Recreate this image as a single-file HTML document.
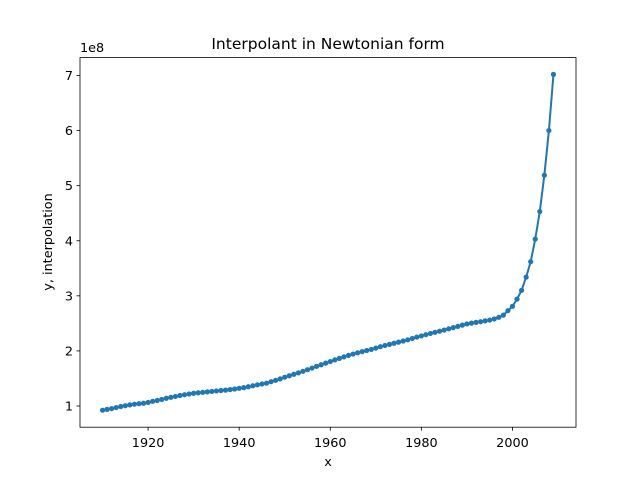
<!DOCTYPE html>
<html><head><meta charset="utf-8"><style>
body{margin:0;background:#fff}
svg text{font-family:"DejaVu Sans","Liberation Sans",sans-serif;fill:#000}
</style></head><body>
<svg id="chart" width="640" height="480" xmlns="http://www.w3.org/2000/svg">
<rect width="640" height="480" fill="#fff"/>
<text x="328" y="49" font-size="15.5" text-anchor="middle">Interpolant in Newtonian form</text>
<text x="328" y="466" font-size="12.8" text-anchor="middle">x</text>
<text transform="translate(52,242) rotate(-90)" font-size="12.8" text-anchor="middle">y, interpolation</text>
<text x="80" y="52" font-size="12.8">1e8</text>
<g id="ticks"></g>
<g id="series"></g>
<rect x="80" y="57.6" width="496" height="369.6" fill="none" stroke="#000" stroke-width="0.8"/>
</svg>
<script>
const years = [];
for (let y = 1910; y <= 2009; y++) years.push(y);
const values = [
0.924,0.939,0.953,0.972,0.991,1.005,1.020,1.033,1.042,1.050,
1.065,1.085,1.100,1.119,1.141,1.158,1.174,1.190,1.205,1.218,
1.231,1.240,1.248,1.256,1.264,1.273,1.281,1.288,1.298,1.309,
1.321,1.334,1.349,1.367,1.384,1.399,1.414,1.441,1.466,1.492,
1.523,1.549,1.576,1.602,1.630,1.659,1.689,1.720,1.749,1.778,
1.807,1.837,1.865,1.892,1.919,1.943,1.966,1.987,2.007,2.027,
2.051,2.077,2.099,2.119,2.139,2.160,2.180,2.202,2.226,2.251,
2.272,2.295,2.317,2.338,2.358,2.379,2.401,2.423,2.445,2.468,
2.490,2.505,2.518,2.530,2.545,2.560,2.580,2.610,2.650,2.730,
2.810,2.940,3.100,3.340,3.620,4.030,4.530,5.190,6.000,7.020];
const xTicks = [1920,1940,1960,1980,2000];
const yTicks = [1,2,3,4,5,6,7];
const NS = "http://www.w3.org/2000/svg";
const L=80,R=576,T=57.6,B=427.2;
const xmin=1905.05,xmax=2013.95;
const ymin=0.6151,ymax=7.325;
function sx(v){return L+(v-xmin)/(xmax-xmin)*(R-L);}
function sy(v){return B-(v-ymin)/(ymax-ymin)*(B-T);}
function mk(tag,attrs,parent){const e=document.createElementNS(NS,tag);for(const k in attrs)e.setAttribute(k,attrs[k]);parent.appendChild(e);return e;}
const tg=document.getElementById('ticks');
xTicks.forEach(t=>{
  const l=mk('line',{x1:sx(t),x2:sx(t),y1:B,y2:B+3.5,stroke:'#000','stroke-width':0.8},tg);
  
  
  const tx=mk('text',{x:sx(t),y:B+20,'font-size':12.8,'text-anchor':'middle'},tg);
  tx.textContent=t;
  
  
});
yTicks.forEach(t=>{
  const l=mk('line',{x1:L-3.5,x2:L,y1:sy(t),y2:sy(t),stroke:'#000','stroke-width':0.8},tg);
  
  
  const tx=mk('text',{x:L-7,y:sy(t)+4.5,'font-size':12.8,'text-anchor':'end'},tg);
  tx.textContent=t;
  
  
});
const sg=document.getElementById('series');
const pts=years.map((x,i)=>sx(x).toFixed(2)+','+sy(values[i]).toFixed(2)).join(' ');
const pl=mk('polyline',{points:pts,fill:'none',stroke:'#1f77b4','stroke-width':2},sg);


years.forEach((x,i)=>{
  const c=mk('circle',{cx:sx(x),cy:sy(values[i]),r:2.6,fill:'#1f77b4'},sg);
  
  
});
</script>
</body></html>
